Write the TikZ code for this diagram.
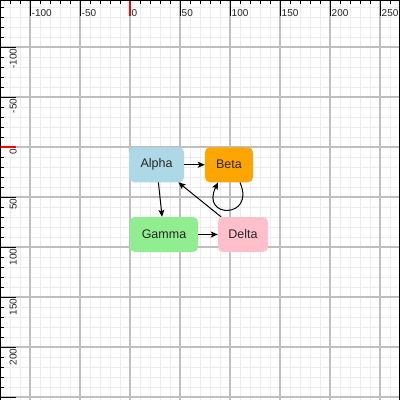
\documentclass[tikz,border=0pt]{standalone}
\usepackage{fontspec}
\setmainfont{Liberation Sans}
\usetikzlibrary{arrows.meta,calc}
\definecolor{alphac}{RGB}{173,216,230}
\definecolor{betac}{RGB}{255,165,0}
\definecolor{gammac}{RGB}{144,238,144}
\definecolor{deltac}{RGB}{255,192,203}
\begin{document}
\begin{tikzpicture}[x=1pt,y=-1pt,
  box/.style={rectangle,rounded corners=5pt,minimum height=35pt,inner sep=0pt,
    font=\fontsize{12.5}{15}\selectfont,text=black!85},
  edge/.style={line width=1pt,-{Stealth[length=7pt,width=6pt,inset=1.5pt]}},
  minorgrid/.style={draw=gray!15,line width=1pt},
  majorgrid/.style={draw=gray!50,line width=1.4pt},
  tick/.style={draw=black,line width=1pt},
  redtick/.style={draw=red,line width=2pt},
  rulerlabel/.style={font=\fontsize{10}{12}\selectfont,inner sep=0pt,text=black!85}]
\useasboundingbox (0,0) rectangle (400,400);
\fill[white] (0,0) rectangle (400,400);
% grid
\foreach \x in {0,10,...,400} \draw[minorgrid] (\x,0) -- (\x,400);
\foreach \y in {7,17,...,397} \draw[minorgrid] (0,\y) -- (400,\y);
\foreach \x in {30,80,...,380} \draw[majorgrid] (\x,0) -- (\x,400);
\foreach \y in {47,97,...,397} \draw[majorgrid] (0,\y) -- (400,\y);
% rulers
\foreach \x in {0,10,...,400} \draw[tick] (\x,0) -- (\x,4);
\foreach \y in {7,17,...,397} \draw[tick] (0,\y) -- (4,\y);
\foreach \x in {30,80,180,230,280,330,380} \draw[tick] (\x,0) -- (\x,16);
\foreach \y in {47,97,197,247,297,347,397} \draw[tick] (0,\y) -- (16,\y);
\draw[redtick] (130,0) -- (130,16);
\draw[redtick] (0,147) -- (16,147);
\foreach \x/\l in {30/-100,80/-50,130/0,180/50,230/100,280/150,330/200,380/250}
  \node[rulerlabel,anchor=base west] (tx\x) at (\x+1.5,16.5) {\l};
\foreach \y/\l in {47/-100,97/-50,147/0,197/50,247/100,297/150,347/200}
  \node[rulerlabel,anchor=base east,rotate=90] (ly\y) at (16.5,\y+1.5) {\l};
% frame
\draw[black,line width=1pt] (0.5,400) -- (0.5,0.5) -- (399.5,0.5) -- (399.5,400);
% nodes
\node[box,fill=alphac,minimum width=55pt] (alpha) at (156.5,164.75) {Alpha};
\node[box,fill=betac,minimum width=48pt] (beta) at (229,164.75) {Beta};
\node[box,fill=gammac,minimum width=68pt] (gamma) at (164,234.5) {Gamma};
\node[box,fill=deltac,minimum width=50pt] (delta) at (243,234.5) {Delta};
% edges
\draw[edge] (alpha) -- (beta);
\draw[edge] (alpha) -- (gamma);
\draw[edge] (gamma) -- (delta);
\draw[edge] (delta) -- (alpha);
\draw[edge] ($(beta.south)+(11,0)$) .. controls ($(beta.south)+(27,36.5)$) and ($(beta.south)+(-29,36.5)$) .. ($(beta.south)+(-11,0)$);
\end{tikzpicture}
\end{document}
